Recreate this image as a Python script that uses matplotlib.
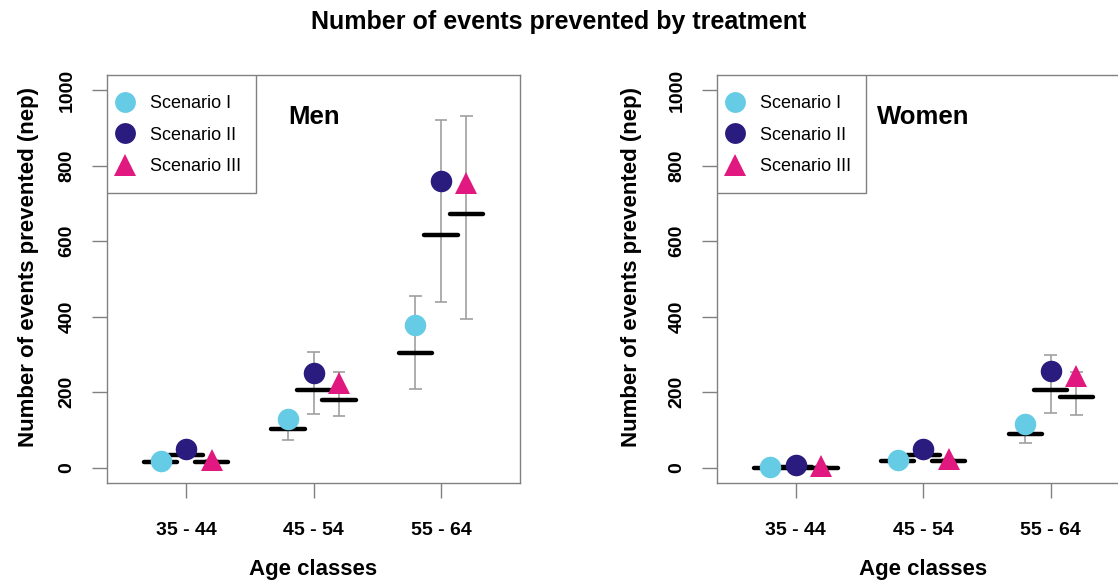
import numpy as np
import matplotlib
matplotlib.use("Agg")
from matplotlib import pyplot as plt
from matplotlib.patches import Rectangle

plt.rcParams['font.family'] = ['Liberation Sans', 'DejaVu Sans']

age_classes = ["35 - 44", "45 - 54", "55 - 64"]
scenarios = ["Scenario I", "Scenario II", "Scenario III"]

# point estimates (markers)
men_points = {
    "Scenario I": [19, 129, 379],
    "Scenario II": [50, 251, 759],
    "Scenario III": [21, 225, 755],
}
# black bars
men_bars = {
    "Scenario I": [15, 103, 303],
    "Scenario II": [34, 205, 617],
    "Scenario III": [15, 181, 671],
}
men_low = {
    "Scenario I": [12, 74, 210],
    "Scenario II": [28, 143, 438],
    "Scenario III": [12, 138, 395],
}
men_high = {
    "Scenario I": [22, 140, 456],
    "Scenario II": [55, 308, 920],
    "Scenario III": [22, 254, 932],
}

women_points = {
    "Scenario I": [2, 21, 117],
    "Scenario II": [8, 50, 257],
    "Scenario III": [4, 23, 242],
}
women_bars = {
    "Scenario I": [0, 17, 90],
    "Scenario II": [2, 34, 205],
    "Scenario III": [0, 17, 187],
}
women_low = {
    "Scenario I": [0, 14, 65],
    "Scenario II": [0, 30, 145],
    "Scenario III": [0, 14, 139],
}
women_high = {
    "Scenario I": [3, 22, 130],
    "Scenario II": [9, 52, 298],
    "Scenario III": [5, 24, 255],
}

colors = {"Scenario I": "#66CCE6", "Scenario II": "#2A1B7E", "Scenario III": "#E0187F"}
markers = {"Scenario I": "o", "Scenario II": "o", "Scenario III": "^"}
offsets = {"Scenario I": -0.2, "Scenario II": 0.0, "Scenario III": 0.2}
grey = "#808080"


def draw_legend(ax):
    # boxed key in the top-left corner, laid out in axes fractions
    ax.add_patch(Rectangle((0, 0.711), 0.361, 0.289, transform=ax.transAxes,
                           facecolor="white", edgecolor=grey, lw=1, zorder=4))
    rows = [0.9346, 0.8578, 0.7801]
    for s, yy in zip(scenarios, rows):
        ms = 15 if markers[s] == "o" else 16
        ax.plot([0.0436], [yy], transform=ax.transAxes, linestyle="none",
                marker=markers[s], ms=ms, color=colors[s], markeredgewidth=0,
                zorder=5, clip_on=False)
        ax.text(0.104, yy, s, transform=ax.transAxes, fontsize=13,
                va="center_baseline", ha="left", zorder=5)


def draw_panel(ax, points, bars, low, high, label, label_x, ylab_x):
    x = np.arange(1, len(age_classes) + 1)
    for s in scenarios:
        xs = x + offsets[s]
        ax.vlines(xs, low[s], high[s], color="#a0a0a0", lw=1.2, zorder=1)
        ax.hlines(low[s], xs - 0.05, xs + 0.05, color="#a0a0a0", lw=1.2, zorder=1)
        ax.hlines(high[s], xs - 0.05, xs + 0.05, color="#a0a0a0", lw=1.2, zorder=1)
        ax.hlines(bars[s], xs - 0.13, xs + 0.13, color="black", lw=3.2,
                  capstyle="round", zorder=2)
        ms = 15.5 if markers[s] == "o" else 16.5
        ax.plot(xs, points[s], linestyle="none", marker=markers[s], ms=ms,
                color=colors[s], markeredgewidth=0, zorder=3)

    ax.set_xlim(0.38, 3.62)
    ax.set_ylim(-40, 1040)
    ax.set_xticks(x)
    ax.set_xticklabels(age_classes, fontsize=14, fontweight="bold")
    ax.set_yticks([0, 200, 400, 600, 800, 1000])
    ax.set_yticklabels(["0", "200", "400", "600", "800", "1000"], fontsize=14,
                       fontweight="bold", rotation=90, va="center")
    ax.tick_params(axis="x", length=10.5, width=1, color=grey, pad=17.5)
    ax.tick_params(axis="y", length=10.5, width=1, color=grey, pad=12)
    for sp in ax.spines.values():
        sp.set_color(grey)
        sp.set_linewidth(1)

    ax.set_xlabel("Age classes", fontsize=16, fontweight="bold", va="top")
    ax.xaxis.set_label_coords(0.499, -0.187)
    ax.set_ylabel("Number of events prevented (nep)", fontsize=16, fontweight="bold")
    ax.yaxis.set_label_coords(ylab_x, 0.53)

    ax.text(label_x, 0.897, label, transform=ax.transAxes, fontsize=18.5,
            fontweight="bold", va="center", ha="left")

    draw_legend(ax)


fig = plt.figure(figsize=(11.18, 5.82), dpi=100)
ax_men = fig.add_axes([107 / 1118, 1 - 483 / 582, 413 / 1118, 408 / 582])
ax_women = fig.add_axes([716.7 / 1118, 1 - 483 / 582, 413 / 1118, 408 / 582])

draw_panel(ax_men, men_points, men_bars, men_low, men_high, "Men", 0.438, -0.165)
draw_panel(ax_women, women_points, women_bars, women_low, women_high, "Women", 0.387, -0.181)

fig.suptitle("Number of events prevented by treatment", fontsize=18,
             fontweight="bold", y=1 - 22 / 582, va="center")

fig.savefig("out.png", dpi=100)
